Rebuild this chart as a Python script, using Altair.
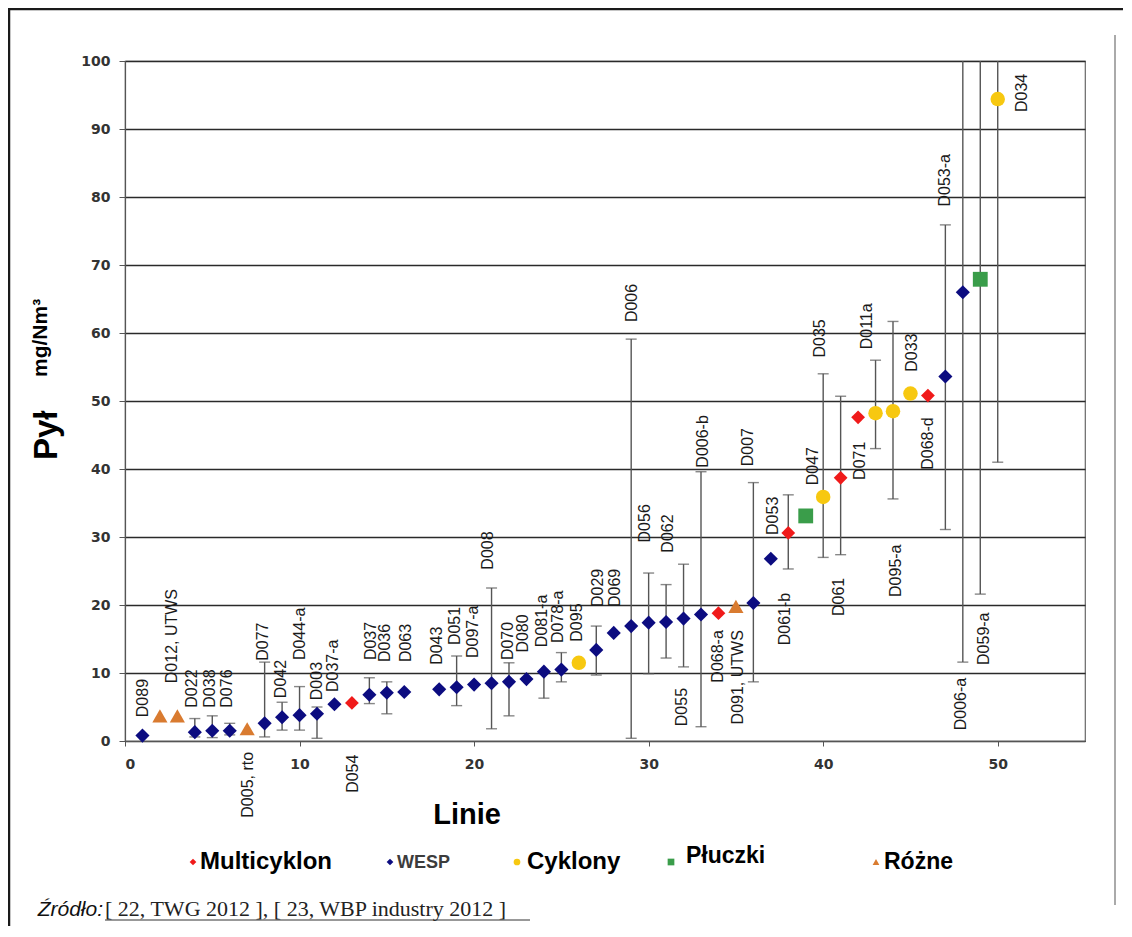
import altair as alt
import pandas as pd

# ---------------- data ----------------
groups = ["Multicyklon", "WESP", "Cyklony", "Płuczki", "Różne"]
group_colors = ["#f01a1a", "#0c0c80", "#f7c810", "#3a9d4a", "#d97b30"]
group_shapes = ["diamond", "diamond", "circle", "square", "triangle-up"]

point_x = [1, 2, 3, 4, 5, 6, 7, 8, 9, 10, 11, 12, 13, 14, 15, 16,
           18, 19, 20, 21, 22, 23, 24, 25, 26, 27, 28, 29, 30, 31, 32, 33,
           34, 35, 36, 37, 38, 39, 40, 41, 42, 43, 44, 45, 46, 47, 48, 49, 50]
point_y = [0.8, 3.7, 3.7, 1.3, 1.5, 1.5, 1.8, 2.6, 3.5, 3.8, 4.0, 5.4, 5.6, 6.8, 7.1, 7.2,
           7.6, 7.9, 8.3, 8.5, 8.7, 9.1, 10.2, 10.5, 11.5, 13.4, 15.9, 16.9, 17.4, 17.5, 18.0, 18.6,
           18.8, 19.8, 20.3, 26.8, 30.6, 33.1, 35.9, 38.7, 47.6, 48.2, 48.5, 51.1, 50.8, 53.6, 66.0, 67.9, 94.4]
point_group = ["WESP", "Różne", "Różne", "WESP", "WESP", "WESP", "Różne", "WESP", "WESP", "WESP",
               "WESP", "WESP", "Multicyklon", "WESP", "WESP", "WESP",
               "WESP", "WESP", "WESP", "WESP", "WESP", "WESP", "WESP", "WESP", "Cyklony",
               "WESP", "WESP", "WESP", "WESP", "WESP", "WESP", "WESP",
               "Multicyklon", "Różne", "WESP", "WESP", "Multicyklon", "Płuczki", "Cyklony",
               "Multicyklon", "Multicyklon", "Cyklony", "Cyklony", "Cyklony", "Multicyklon",
               "WESP", "WESP", "Płuczki", "Cyklony"]

err_x = [4, 5, 6, 8, 9, 10, 11, 14, 15, 19, 21, 22, 24, 25, 27, 29, 30, 31, 32, 33,
         36, 38, 40, 41, 43, 44, 47, 48, 49, 50]
err_lo = [0.6, 0.5, 0.9, 0.6, 1.6, 1.6, 0.4, 5.5, 4.0, 5.2, 1.8, 3.7, 6.3, 8.7, 9.7, 0.4, 9.9, 12.2, 10.9, 2.1,
          8.7, 25.3, 27.0, 27.4, 43.0, 35.6, 31.1, 11.6, 21.6, 41.0]
err_hi = [3.3, 3.7, 2.6, 11.6, 5.7, 8.0, 5.0, 9.3, 8.7, 12.5, 22.5, 11.5, 10.2, 13.0, 16.9, 59.1, 24.7, 23.0, 26.0, 39.6,
          38.0, 36.2, 54.0, 50.7, 56.0, 61.7, 75.9, 110.0, 110.0, 110.0]

# labels written upward from their anchor (above the points)
up_text = ["D089", "D012, UTWS", "D022", "D038", "D076", "D077", "D042", "D044-a", "D003", "D037-a",
           "D037", "D036", "D063", "D043", "D051", "D097-a", "D008", "D070", "D080", "D081-a",
           "D078-a", "D095", "D029", "D069", "D006", "D056", "D062", "D006-b", "D007", "D053",
           "D047", "D035", "D071", "D011a", "D033", "D053-a", "D034"]
up_x = [1.03, 2.7, 3.84, 4.87, 5.85, 7.9, 8.95, 10.0, 11.0, 11.9,
        14.1, 14.9, 16.1, 17.9, 18.9, 19.95, 20.8, 21.96, 22.8, 23.9,
        24.8, 25.9, 27.1, 28.1, 29.07, 29.8, 31.1, 33.1, 35.7, 37.1,
        39.4, 39.8, 42.1, 42.5, 45.1, 47.0, 51.4]
up_y = [3.5, 8.5, 4.9, 4.9, 4.9, 11.8, 6.3, 11.9, 6.0, 7.2,
        11.9, 11.6, 11.6, 11.2, 14.1, 12.2, 25.2, 11.9, 13.0, 13.8,
        14.4, 14.6, 19.7, 19.7, 61.6, 29.2, 27.7, 40.2, 40.4, 30.3,
        37.6, 56.4, 38.4, 57.6, 54.3, 78.6, 92.5]

# labels hanging downward from their anchor (below the points)
down_text = ["D005,  rto", "D054", "D055", "D068-a", "D091,  UTWS", "D061-b", "D061",
             "D095-a", "D068-d", "D006-a", "D059-a"]
down_x = [7.05, 13.07, 31.9, 34.0, 35.1, 37.8, 40.9, 44.2, 46.0, 47.9, 49.2]
down_y = [-1.6, -2.0, 7.8, 16.3, 16.3, 21.8, 24.0, 28.9, 47.6, 9.3, 18.9]

x_ticks = [0, 10, 20, 30, 40, 50]
y_ticks = [0, 10, 20, 30, 40, 50, 60, 70, 80, 90, 100]

y_title_main = "Pył"
y_title_unit = "mg/Nm³"
x_title = "Linie"
source_label = "Źródło:"
source_refs = "[ 22, TWG 2012 ], [ 23, WBP industry 2012 ]"

# ---------------- layout / style (pixels, relative to plot area) ----------------
W, H = 960, 680
PAD = {"left": 117, "top": 53, "right": 38, "bottom": 185}
LEG_Y = 801
LEGEND_LAYOUT = {
    "Multicyklon": dict(mx=68, tx=75, ty=801, fs=24, col="#000000"),
    "WESP": dict(mx=265, tx=272, ty=802, fs=18, col="#3c3c3c"),
    "Cyklony": dict(mx=392, tx=402, ty=801, fs=24, col="#000000"),
    "Płuczki": dict(mx=546, tx=561, ty=795, fs=23, col="#000000"),
    "Różne": dict(mx=751, tx=759, ty=801, fs=23, col="#000000"),
}
POINT_SIZES = [190, 230, 300, 240, 260]

xs = alt.Scale(domain=[0, 55], nice=False, zero=False)
ys = alt.Scale(domain=[0, 100], nice=False, zero=False)

x_axis = alt.Axis(values=x_ticks, grid=False, title=None, labelFont="DejaVu Sans",
                  labelFontWeight="bold", labelFontSize=14, labelColor="#333333",
                  tickColor="#555555", tickSize=5, domainColor="#555555", domainWidth=1.2,
                  labelPadding=11)
y_axis = alt.Axis(values=y_ticks, grid=True, gridColor="#2a2a2a", gridWidth=1.3, title=None,
                  labelFont="DejaVu Sans", labelFontWeight="bold", labelFontSize=14,
                  labelColor="#333333", tickColor="#555555", tickSize=6,
                  domainColor="#555555", domainWidth=1.2, labelPadding=9)

pts = pd.DataFrame({"x": point_x, "y": point_y, "g": point_group})
errs = pd.DataFrame({"x": err_x, "lo": err_lo, "hi": err_hi})
caps = pd.concat([pd.DataFrame({"x": err_x, "v": err_lo}),
                  pd.DataFrame({"x": err_x, "v": err_hi})], ignore_index=True)
ups = pd.DataFrame({"x": up_x, "y": up_y, "t": up_text})
downs = pd.DataFrame({"x": down_x, "y": down_y, "t": down_text})

rules = alt.Chart(errs).mark_rule(color="#555555", strokeWidth=1.4, clip=True).encode(
    x=alt.X("x:Q", scale=xs, axis=x_axis),
    y=alt.Y("lo:Q", scale=ys, axis=y_axis),
    y2="hi:Q",
)
capmarks = alt.Chart(caps).mark_tick(color="#555555", thickness=1.4, size=11,
                                     orient="horizontal", clip=True).encode(
    x=alt.X("x:Q", scale=xs), y=alt.Y("v:Q", scale=ys))

points = alt.Chart(pts).mark_point(filled=True, opacity=1, strokeWidth=0).encode(
    x=alt.X("x:Q", scale=xs),
    y=alt.Y("y:Q", scale=ys),
    shape=alt.Shape("g:N", scale=alt.Scale(domain=groups, range=group_shapes), legend=None),
    color=alt.Color("g:N", scale=alt.Scale(domain=groups, range=group_colors), legend=None),
    size=alt.Size("g:O", scale=alt.Scale(domain=groups, range=POINT_SIZES), legend=None),
)

lab_style = dict(angle=270, baseline="middle", font="Liberation Sans", fontSize=16, color="#1a1a1a")
up_labels = alt.Chart(ups).mark_text(align="left", **lab_style).encode(
    x=alt.X("x:Q", scale=xs), y=alt.Y("y:Q", scale=ys), text="t:N")
down_labels = alt.Chart(downs).mark_text(align="right", **lab_style).encode(
    x=alt.X("x:Q", scale=xs), y=alt.Y("y:Q", scale=ys), text="t:N")


def one():
    return alt.Data(values=[{"k": 0}])


def vtext(text, x, y, **kw):
    return alt.Chart(alt.Data(values=[{"t": text}])).mark_text(**kw).encode(
        x=alt.value(x), y=alt.value(y), text="t:N")


def vline(x1, x2, y1, y2, **kw):
    return alt.Chart(one()).mark_rule(**kw).encode(
        x=alt.value(x1), x2=alt.value(x2), y=alt.value(y1), y2=alt.value(y2))


extras = [
    vtext(y_title_main, -78, 399, angle=270, align="left", baseline="middle",
          font="Liberation Sans", fontSize=33, fontWeight="bold", color="#000000"),
    vtext(y_title_unit, -84, 316, angle=270, align="left", baseline="middle",
          font="Liberation Sans", fontSize=21, fontWeight="bold", color="#000000"),
    vtext(x_title, 342, 754, align="center", baseline="middle",
          font="Liberation Sans", fontSize=29, fontWeight="bold", color="#000000"),
    vtext(source_label, -22, 855, align="right", baseline="alphabetic",
          font="Liberation Sans", fontSize=21, fontStyle="italic", color="#111111"),
    vtext(source_refs, -20, 855, align="left", baseline="alphabetic",
          font="Liberation Serif", fontSize=22, color="#222222"),
    vline(-20, 405, 859, 859, color="#333333", strokeWidth=1),
    # outer frame of the screenshot
    vline(-117, 1000, -52, -52, color="#1a1a1a", strokeWidth=2.5),
    vline(-116, -116, -52, 880, color="#1a1a1a", strokeWidth=2.5),
    vline(990, 990, -26, 844, color="#aaaaaa", strokeWidth=2),
]

legend_layers = []
for g, c, s in zip(groups, group_colors, group_shapes):
    L = LEGEND_LAYOUT[g]
    legend_layers.append(
        alt.Chart(one()).mark_point(filled=True, opacity=1, shape=s, size=45, color=c, strokeWidth=0)
        .encode(x=alt.value(L["mx"]), y=alt.value(LEG_Y)))
    legend_layers.append(
        vtext(g, L["tx"], L["ty"], align="left", baseline="middle", font="Liberation Sans",
              fontSize=L["fs"], fontWeight="bold", color=L["col"]))

chart = alt.layer(rules, capmarks, points, up_labels, down_labels, *extras, *legend_layers).properties(
    width=W, height=H, padding=PAD, autosize=alt.AutoSizeParams(type="none"),
    background="white",
).configure_view(stroke="#666666", strokeWidth=1.2)

chart.save("out.html", embed_options={"renderer": "svg", "actions": False})
